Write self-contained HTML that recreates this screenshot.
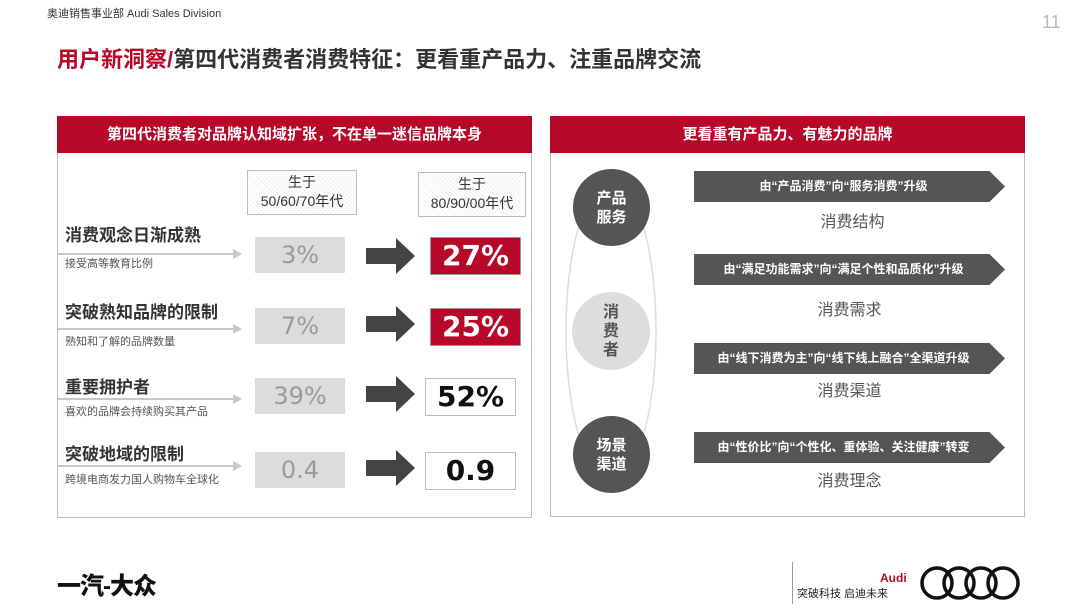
<!DOCTYPE html>
<html><head><meta charset="utf-8"><style>
*{margin:0;padding:0;box-sizing:border-box}
body{width:1080px;height:608px;background:#fff;position:relative;overflow:hidden;font-family:"Liberation Sans","Noto Sans CJK SC",sans-serif;color:#222}
.a{position:absolute}
.hd{background:#b7082a;color:#fff;font-weight:bold;font-size:15px;text-align:center;line-height:37px}
.panel{border:1px solid #bbb}
.yr{border:1.5px solid #bbb;background:repeating-linear-gradient(45deg,#fff 0 2px,#f0f0f0 2px 3px);text-align:center;font-size:14px;line-height:19px;padding-top:2px;color:#333}
.t{font-size:17px;font-weight:bold;color:#333}
.s{font-size:11px;color:#555}
.ln{height:2px;background:#c8c8c8}
.g{background:#dcdcdc;color:#9a9a9a;font-size:24px;text-align:center;line-height:36px;font-family:"DejaVu Sans",sans-serif}
.r{background:#b7082a;color:#fff;font-size:28px;font-weight:bold;text-align:center;line-height:36px;border:1px solid #999;font-family:"DejaVu Sans",sans-serif}
.k{background:#fff;color:#111;font-size:28px;text-align:center;line-height:36px;border:1px solid #bbb;font-family:"DejaVu Sans",sans-serif;font-weight:bold}
.bn{height:31px;background:#555;color:#fff;font-size:12px;font-weight:bold;text-align:center;line-height:31px;clip-path:polygon(0 0,95% 0,100% 50%,95% 100%,0 100%);padding-right:12px}
.lb{font-size:16px;color:#555;text-align:center;width:311px}
.c{border-radius:50%;color:#fff;font-weight:bold;font-size:15px;display:flex;align-items:center;justify-content:center;text-align:center;line-height:19px}
</style></head><body>
<div class="a" style="left:47px;top:5px;font-size:11px;color:#333">奥迪销售事业部 Audi Sales Division</div>
<div class="a" style="left:1042px;top:12px;font-size:18px;color:#bbb">11</div>
<div class="a" style="left:57px;top:42px;font-size:22px;font-weight:bold;color:#333"><span style="color:#b7082a">用户新洞察/</span>第四代消费者消费特征：更看重产品力、注重品牌交流</div>

<div class="a panel" style="left:57px;top:116px;width:475px;height:402px"></div>
<div class="a hd" style="left:57px;top:116px;width:475px">第四代消费者对品牌认知域扩张，不在单一迷信品牌本身</div>
<div class="a yr" style="left:247px;top:170px;width:110px;height:45px">生于<br>50/60/70年代</div>
<div class="a yr" style="left:418px;top:172px;width:108px;height:45px">生于<br>80/90/00年代</div>

<div class="a t" style="left:65px;top:221px">消费观念日渐成熟</div>
<div class="a ln" style="left:57px;top:253px;width:183px"></div>
<div class="a s" style="left:65px;top:255px">接受高等教育比例</div>
<div class="a g" style="left:255px;top:237px;width:90px">3%</div>
<div class="a r" style="left:430px;top:237px;width:91px">27%</div>

<div class="a t" style="left:65px;top:298px">突破熟知品牌的限制</div>
<div class="a ln" style="left:57px;top:328px;width:183px"></div>
<div class="a s" style="left:65px;top:333px">熟知和了解的品牌数量</div>
<div class="a g" style="left:255px;top:308px;width:90px">7%</div>
<div class="a r" style="left:430px;top:308px;width:91px">25%</div>

<div class="a t" style="left:65px;top:373px">重要拥护者</div>
<div class="a ln" style="left:57px;top:398px;width:183px"></div>
<div class="a s" style="left:65px;top:403px">喜欢的品牌会持续购买其产品</div>
<div class="a g" style="left:255px;top:378px;width:90px">39%</div>
<div class="a k" style="left:425px;top:378px;width:91px">52%</div>

<div class="a t" style="left:65px;top:440px">突破地域的限制</div>
<div class="a ln" style="left:57px;top:465px;width:183px"></div>
<div class="a s" style="left:65px;top:471px">跨境电商发力国人购物车全球化</div>
<div class="a g" style="left:255px;top:452px;width:90px">0.4</div>
<div class="a k" style="left:425px;top:452px;width:91px">0.9</div>

<svg class="a" style="left:0;top:0" width="1080" height="608">
<g fill="#c8c8c8"><polygon points="233,249 242,254 233,259"/><polygon points="233,324 242,329 233,334"/><polygon points="233,394 242,399 233,404"/><polygon points="233,461 242,466 233,471"/></g>
<g fill="#444"><polygon points="366,248 396,248 396,238 415,256 396,274 396,264 366,264"/><polygon points="366,316 396,316 396,306 415,324 396,342 396,332 366,332"/><polygon points="366,386 396,386 396,376 415,394 396,412 396,402 366,402"/><polygon points="366,460 396,460 396,450 415,468 396,486 396,476 366,476"/></g>
<ellipse cx="611" cy="331" rx="45" ry="150" fill="none" stroke="#ddd" stroke-width="1.5"/>
</svg>

<div class="a panel" style="left:550px;top:116px;width:475px;height:401px"></div>
<div class="a hd" style="left:550px;top:116px;width:475px">更看重有产品力、有魅力的品牌</div>
<div class="a c" style="left:573px;top:169px;width:77px;height:77px;background:#555">产品<br>服务</div>
<div class="a c" style="left:572px;top:292px;width:78px;height:78px;background:#ddd;color:#555;font-size:16px">消<br>费<br>者</div>
<div class="a c" style="left:573px;top:416px;width:77px;height:77px;background:#555">场景<br>渠道</div>

<div class="a bn" style="left:694px;top:171px;width:311px">由“产品消费”向“服务消费”升级</div>
<div class="a lb" style="left:697px;top:208px">消费结构</div>
<div class="a bn" style="left:694px;top:254px;width:311px">由“满足功能需求”向“满足个性和品质化”升级</div>
<div class="a lb" style="left:694px;top:296px">消费需求</div>
<div class="a bn" style="left:694px;top:343px;width:311px">由“线下消费为主”向“线下线上融合”全渠道升级</div>
<div class="a lb" style="left:694px;top:377px">消费渠道</div>
<div class="a bn" style="left:694px;top:432px;width:311px">由“性价比”向“个性化、重体验、关注健康”转变</div>
<div class="a lb" style="left:694px;top:467px">消费理念</div>

<div class="a" style="left:57px;top:566px;font-size:24px;font-weight:900;color:#111;letter-spacing:-1px">一汽-大众</div>
<div class="a" style="left:792px;top:562px;width:1px;height:42px;background:#999"></div>
<div class="a" style="left:880px;top:571px;font-size:12px;font-weight:bold;color:#b7082a">Audi</div>
<div class="a" style="left:797px;top:585px;font-size:11px;color:#222">突破科技 启迪未来</div>
<svg class="a" style="left:918px;top:564px" width="104" height="40"><g fill="none" stroke="#111" stroke-width="3.5"><circle cx="19" cy="19" r="15"/><circle cx="41" cy="19" r="15"/><circle cx="63" cy="19" r="15"/><circle cx="85" cy="19" r="15"/></g></svg>
</body></html>
